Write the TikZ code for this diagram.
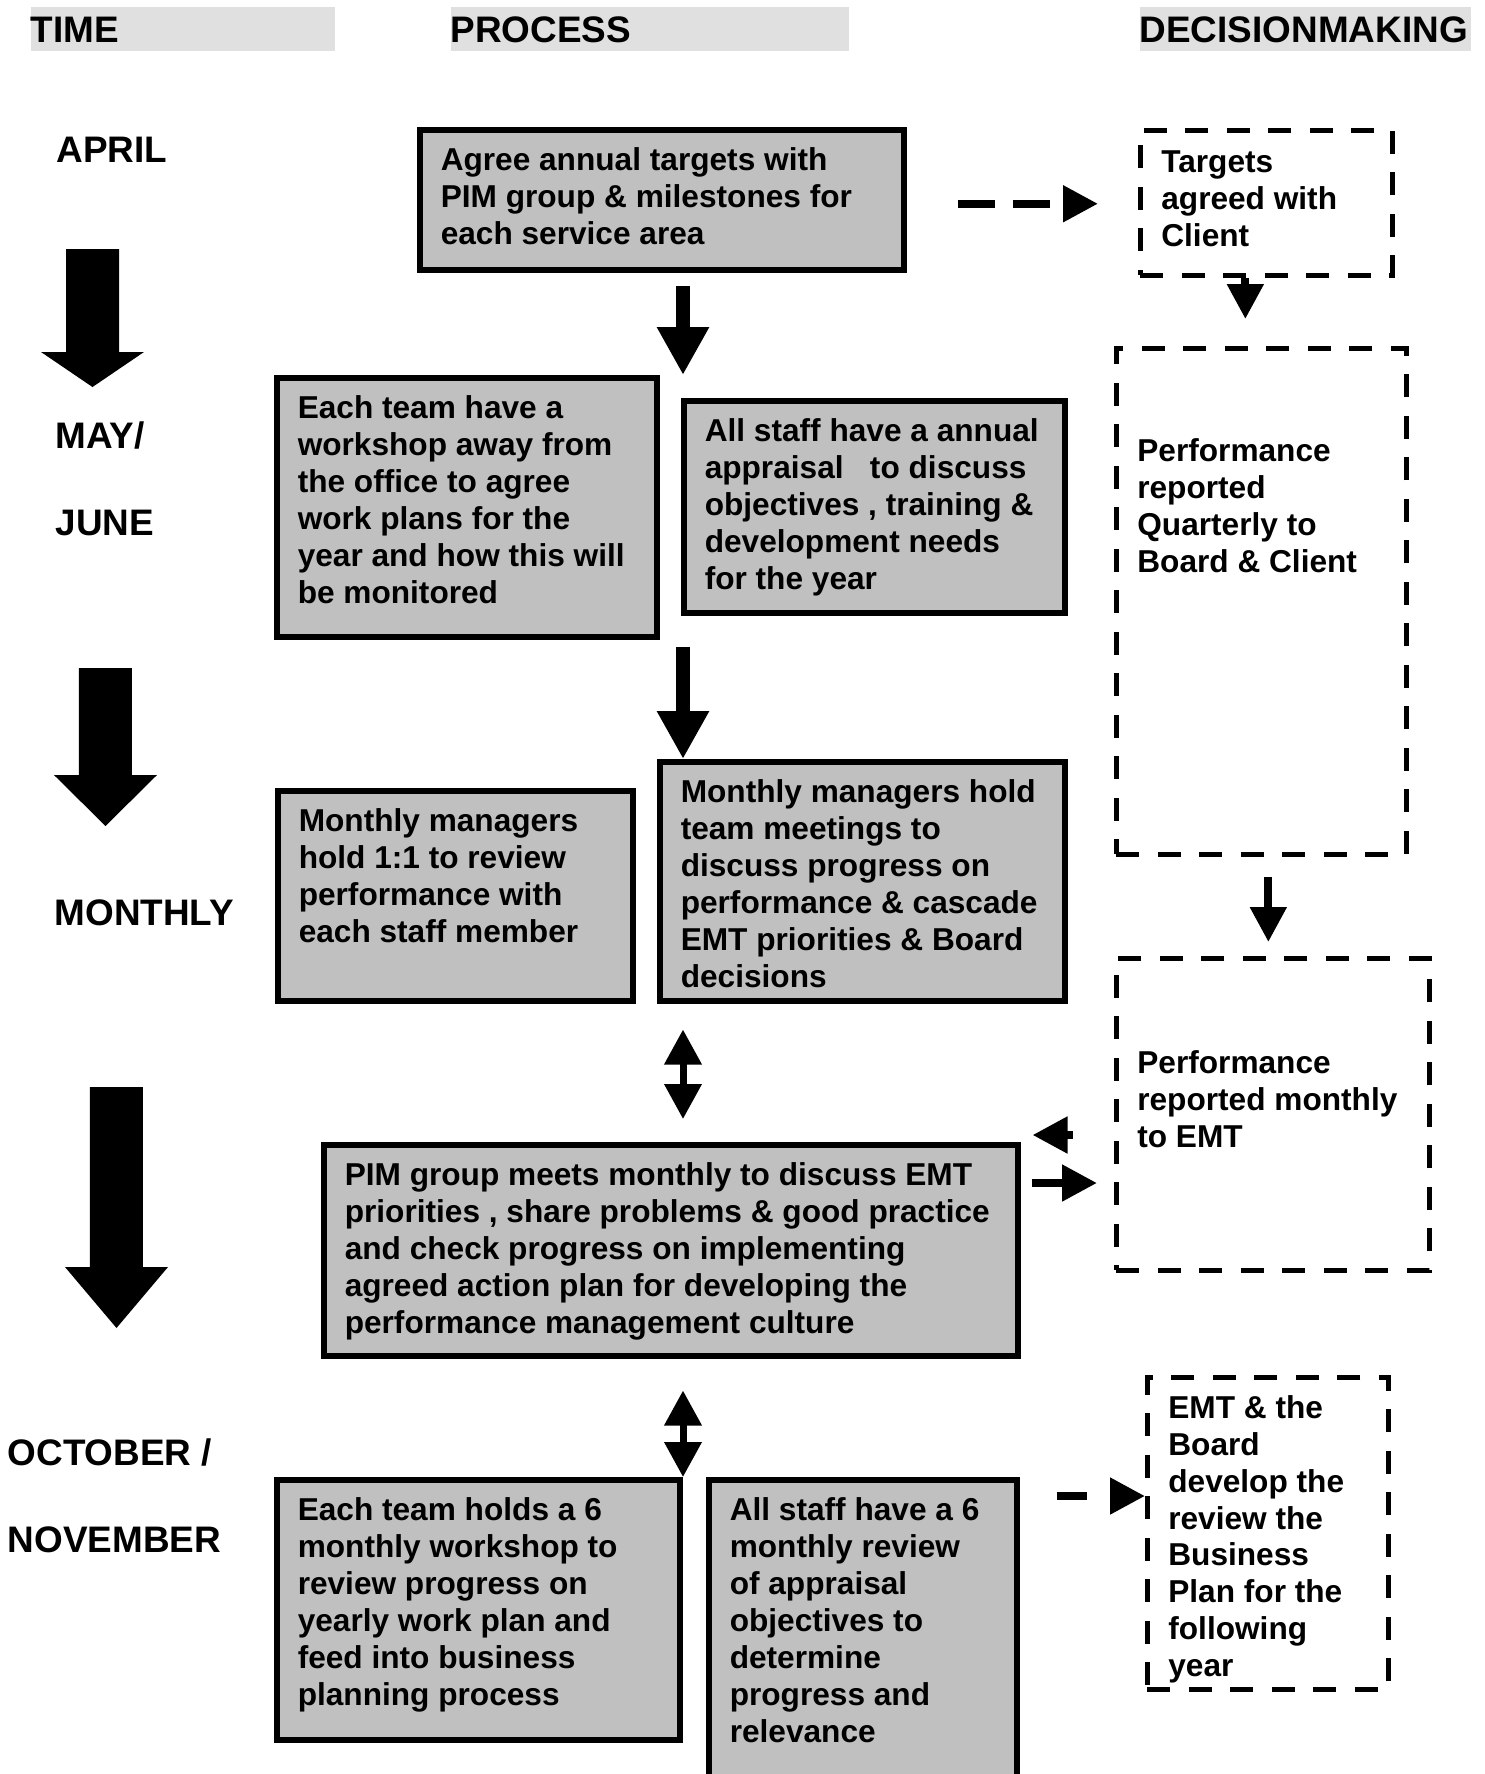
\documentclass[tikz,border=0pt]{standalone}
\usepackage{fontspec}
\setmainfont{Liberation Sans}
\usetikzlibrary{arrows.meta}
\definecolor{boxgray}{RGB}{192,192,192}
\definecolor{bargray}{RGB}{224,224,224}

\begin{document}
\begin{tikzpicture}[
        proc/.style={draw, line width=0.55mm, fill=boxgray, anchor=north west, align=flush left,
            inner xsep=0.21cm, inner ysep=0pt, text height=0.41cm,
            font=\fontsize{9}{10.5}\selectfont\bfseries},
        dec/.style={proc, fill=none, line width=0.47mm, dash pattern=on 0.23cm off 0.185cm},
        bar/.style={fill=bargray, anchor=north west, align=flush left, inner sep=0pt,
            text height=0.36cm, text depth=0.08cm, font=\fontsize{10.5}{12}\selectfont\bfseries},
        when/.style={anchor=base west, inner sep=0pt, font=\fontsize{10.5}{12}\selectfont\bfseries},
        flow/.style={line width=1.4mm, -{Triangle[width=4.9mm,length=4.8mm]}},
        link/.style={line width=0.8mm, -{Triangle[width=3.5mm,length=3.5mm]}},
        dashlink/.style={link, dash pattern=on 0.37cm off 0.18cm},
        both/.style={line width=0.7mm, {Triangle[width=3.6mm,length=3.5mm]}-{Triangle[width=3.6mm,length=3.5mm]}}
    ]
                \useasboundingbox (0,0) rectangle (14.85,-17.74);

                \node [bar, text width=3.04cm] (time) at (0.30,-0.06) {TIME};
                \node [bar, text width=3.98cm] (process) at (4.50,-0.06) {PROCESS};
                \node [bar, text width=3.31cm] (decision) at (11.39,-0.06) {DECISIONMAKING};

                \node [when] (april) at (0.56,-1.62) {APRIL};
                \node [when] (may) at (0.55,-4.48) {MAY/};
                \node [when] (june) at (0.55,-5.35) {JUNE};
                \node [when] (monthly) at (0.54,-9.25) {MONTHLY};
                \node [when] (october) at (0.07,-14.65) {OCTOBER /};
                \node [when] (november) at (0.07,-15.52) {NOVEMBER};

                \foreach \cx/\ytop/\ybase/\ytip in {0.925/2.49/3.52/3.87, 1.055/6.68/7.75/8.26, 1.165/10.87/12.67/13.28}
                    \fill (\cx-0.265,-\ytop) -- (\cx+0.265,-\ytop) -- (\cx+0.265,-\ybase) -- (\cx+0.515,-\ybase)
                        -- (\cx,-\ytip) -- (\cx-0.515,-\ybase) -- (\cx-0.265,-\ybase) -- cycle;

                \node [proc, text width=4.42cm, text depth=0.99cm] (agree) at (4.17,-1.27) {
                    Agree annual targets with\\PIM group \& milestones for\\each service area
                };
                \node [proc, text width=3.38cm, text depth=2.18cm] (workshop) at (2.74,-3.75) {
                    Each team have a\\workshop away from\\the office to agree\\work plans for the\\year and how this will\\be monitored
                };
                \node [proc, text width=3.39cm, text depth=1.71cm] (appraisal) at (6.81,-3.98) {
                    All staff have a annual\\appraisal \ \ to discuss\\objectives , training \&\\development needs\\for the year
                };
                \node [proc, text width=3.13cm, text depth=1.69cm] (onetoone) at (2.75,-7.88) {
                    Monthly managers\\hold 1:1 to review\\performance with\\each staff member
                };
                \node [proc, text width=3.63cm, text depth=1.98cm] (teammeet) at (6.57,-7.59) {
                    Monthly managers hold\\team meetings to\\discuss progress on\\performance \& cascade\\EMT priorities \& Board\\decisions
                };
                \node [proc, text width=6.52cm, text depth=1.70cm] (pim) at (3.21,-11.42) {
                    PIM group meets monthly to discuss EMT\\priorities , share problems \& good practice\\and check progress on implementing\\agreed action plan for developing the\\performance management culture
                };
                \node [proc, text width=3.61cm, text depth=2.19cm] (sixteam) at (2.74,-14.77) {
                    Each team holds a 6\\monthly workshop to\\review progress on\\yearly work plan and\\feed into business\\planning process
                };
                \node [proc, text width=2.66cm, text depth=2.90cm] (sixstaff) at (7.06,-14.77) {
                    All staff have a 6\\monthly review\\of appraisal\\objectives to\\determine\\progress and\\relevance
                };

                \node [dec, text width=2.10cm, text height=0.42cm, text depth=1.03cm] (targets) at (11.38,-1.28) {
                    Targets\\agreed with\\Client
                };
                \node [dec, text width=2.48cm, text height=1.13cm, text depth=3.93cm] (quarterly) at (11.14,-3.46) {
                    Performance\\reported\\Quarterly to\\Board \& Client
                };
                \node [dec, text width=2.71cm, text height=1.15cm, text depth=1.97cm] (toemt) at (11.14,-9.56) {
                    Performance\\reported monthly\\to EMT
                };
                \node [dec, text width=1.99cm, text height=0.41cm, text depth=2.71cm] (business) at (11.45,-13.75) {
                    EMT \& the\\Board\\develop the\\review the\\Business\\Plan for the\\following\\year
                };

                \coordinate (spine) at (6.83,0);
                \draw [flow, shorten <=0.13cm] (agree.south -| spine) -- (workshop.north -| spine);
                \draw [flow, shorten <=0.07cm] (workshop.south -| spine) -- (teammeet.north -| spine);
                \draw [both, shorten <=0.26cm, shorten >=0.23cm] (teammeet.south -| spine) -- (pim.north -| spine);
                \draw [both, shorten <=0.32cm] (pim.south -| spine) -- (sixteam.north -| spine);

                \draw [dashlink, shorten <=0.51cm, shorten >=0.4cm] ([yshift=-0.04cm]agree.east) -- ([yshift=-0.04cm]agree.east -| targets.west);
                \draw [link, shorten >=0.27cm] ([xshift=-0.21cm]targets.south) -- ([xshift=-0.21cm]targets.south |- quarterly.north);
                \draw [link, dash pattern=on 0.30cm off 0.3cm, shorten <=0.2cm, shorten >=0.14cm]
                    ([xshift=0.07cm]quarterly.south) -- ([xshift=0.07cm]quarterly.south |- toemt.north);
                \draw [link, shorten <=0.41cm, shorten >=0.12cm] ([yshift=0.07cm]pim.north east -| toemt.west) -- ([yshift=0.07cm]pim.north east);
                \draw [link, shorten <=0.11cm, shorten >=0.17cm] ([yshift=-0.41cm]pim.north east) -- ([yshift=-0.41cm]pim.north east -| toemt.west);
                \draw [link, dash pattern=on 0.30cm off 0.29cm, shorten <=0.37cm] ([yshift=-0.19cm]sixstaff.north east) -- ([yshift=-0.19cm]sixstaff.north east -| business.west);
            \end{tikzpicture}
\end{document}
